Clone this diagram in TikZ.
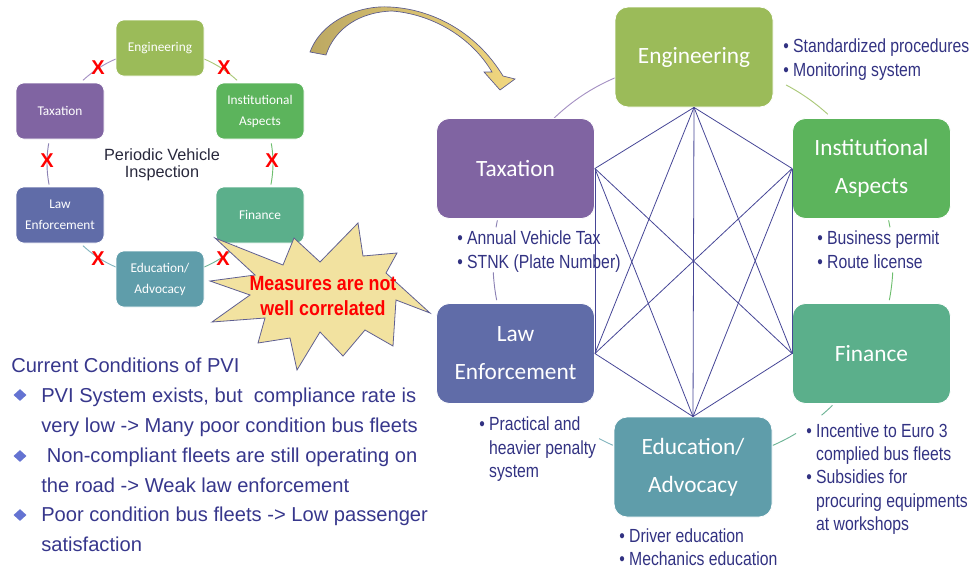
\documentclass[tikz,border=0pt]{standalone}
\usepackage{fontspec}
\setmainfont{Liberation Sans}
\newfontfamily\boxfont{Carlito}
\newfontfamily\narrowfont[FakeStretch=0.83]{Liberation Sans}
\newfontfamily\burstfont[FakeStretch=0.87]{Liberation Sans Bold}
\newfontfamily\xfont{Liberation Sans Bold}
\usetikzlibrary{shapes.geometric}
\definecolor{cEng}{RGB}{155,187,89}
\definecolor{cTax}{RGB}{128,100,162}
\definecolor{cInst}{RGB}{92,180,92}
\definecolor{cLaw}{RGB}{96,108,168}
\definecolor{cFin}{RGB}{91,175,139}
\definecolor{cEdu}{RGB}{95,157,170}
\definecolor{navy}{RGB}{50,50,130}
\definecolor{condblue}{RGB}{55,55,140}
\definecolor{web}{RGB}{70,70,150}
\definecolor{burstfill}{RGB}{242,226,160}
\definecolor{burstline}{RGB}{95,95,145}
\definecolor{arcpurple}{RGB}{165,145,195}
\definecolor{arcgreen}{RGB}{170,200,120}
\definecolor{arcgrey}{RGB}{140,130,180}
\definecolor{arcgreen2}{RGB}{110,190,110}
\definecolor{arcteal}{RGB}{110,180,150}
\definecolor{arcteal2}{RGB}{130,180,190}
\definecolor{diamblue}{RGB}{100,115,210}
\newcommand{\ringarc}[6]{\draw[#1] plot[domain=#5:#6, samples=24, smooth, variable=\t] ({#2+#4*cos(\t)},{#3+#4*sin(\t)});}
\begin{document}
\begin{tikzpicture}[x=0.75pt,y=-0.75pt,
  bigbox/.style={rectangle, rounded corners=9.75pt, minimum width=118.5pt, minimum height=75pt, inner sep=0pt, text=white, align=center, draw=white, line width=0.6pt, font=\boxfont\fontsize{17.5}{28.5}\selectfont},
  smallbox/.style={rectangle, rounded corners=6pt, minimum width=66pt, minimum height=42pt, inner sep=0pt, text=white, align=center, draw=white, line width=0.5pt, font=\boxfont\fontsize{10}{15.75}\selectfont},
  bul/.style={anchor=base west, inner sep=0pt, text=navy, font=\narrowfont\fontsize{14.25}{18}\selectfont},
  cond/.style={anchor=base west, inner sep=0pt, text=condblue, font=\fontsize{15.1}{18}\selectfont},
  xmark/.style={inner sep=0pt, text=red, font=\xfont\fontsize{15}{16}\selectfont},
  webline/.style={draw=web, line width=0.6pt},
  diam/.style={diamond, fill=diamblue, minimum width=9.75pt, minimum height=9pt, inner sep=0pt},
  thinarc/.style={line width=0.7pt}
]
\useasboundingbox (0,0) rectangle (978,572);

% ---------------- left small diagram ----------------
\ringarc{thinarc, arcpurple}{160}{163}{113}{227}{247}
\ringarc{thinarc, arcgreen}{160}{163}{113}{293}{313}
\ringarc{thinarc, arcgrey}{160}{163}{113}{169}{190}
\ringarc{thinarc, arcgreen2}{160}{163}{113}{-10}{11}
\ringarc{thinarc, arcteal2}{160}{163}{113}{113}{133}
\ringarc{thinarc, arcteal}{160}{163}{113}{47}{67}

\node[smallbox, fill=cEng] (sE) at (160,48) {Engineering};
\node[smallbox, fill=cTax] (sT) at (60,111) {Taxation};
\node[smallbox, fill=cInst] (sI) at (260,111) {Institutional\\Aspects};
\node[smallbox, fill=cLaw] (sL) at (60,215) {Law\\Enforcement};
\node[smallbox, fill=cFin] (sF) at (260,215) {Finance};
\node[smallbox, fill=cEdu] (sD) at (160,279) {Education/\\Advocacy};

\node[xmark] (x1) at (98,68) {X};
\node[xmark] (x2) at (224,68) {X};
\node[xmark] (x3) at (47,161) {X};
\node[xmark] (x4) at (272,161) {X};
\node[xmark] (x5) at (98,259) {X};
\node[xmark] (x6) at (223,259) {X};

\node[align=center, inner sep=0pt, text={rgb,255:red,40;green,40;blue,60}, font=\fontsize{12.2}{12.75}\selectfont] (pvi) at (162,165) {Periodic Vehicle\\Inspection};

% starburst
\draw[fill=burstfill, draw=burstline, line width=0.6pt, line join=miter]
  (215,238) -- (283,265) -- (294,238) -- (320,262) -- (358,223) -- (363,256)
  -- (397,253) -- (386,273) -- (430,313) -- (396,300) -- (393,346) -- (365,330)
  -- (343,356) -- (320,332) -- (297,370) -- (290,338) -- (258,343) -- (265,318)
  -- (212,322) -- (250,295) -- (210,281) -- (255,275) -- cycle;
\node[align=center, inner sep=0pt, text=red, font=\burstfont\fontsize{15.4}{18.75}\selectfont] (burst) at (323,296) {Measures are not\\well correlated};

% curved arrow
\shadedraw[left color={rgb,255:red,188;green,168;blue,98}, right color={rgb,255:red,242;green,216;blue,128}, draw={rgb,255:red,90;green,90;blue,140}, line width=0.5pt]
  (310,52) .. controls (322,20) and (360,5) .. (390,7)
  .. controls (430,9) and (475,30) .. (503,76)
  -- (515,79) -- (500,90) -- (484,72) -- (492,72)
  .. controls (470,35) and (430,14) .. (392,11)
  .. controls (360,12) and (335,28) .. (326,55) -- cycle;

% ---------------- bottom-left text ----------------
\node[cond] (cc) at (11,372) {Current Conditions of PVI};
\node[diam] (d1) at (20,395) {};
\node[cond] (c1a) at (41,402) {PVI System exists, but~ compliance rate is};
\node[cond] (c1b) at (41,432) {very low -> Many poor condition bus fleets};
\node[diam] (d2) at (20,456) {};
\node[cond] (c2a) at (41,462) {\ Non-compliant fleets are still operating on};
\node[cond] (c2b) at (41,492) {the road -> Weak law enforcement};
\node[diam] (d3) at (20,515) {};
\node[cond] (c3a) at (41,521) {Poor condition bus fleets -> Low passenger};
\node[cond] (c3b) at (41,551) {satisfaction};

% ---------------- right diagram ----------------
\ringarc{thinarc, arcpurple}{693}{262}{200}{226}{247}
\ringarc{thinarc, arcgreen}{693}{262}{200}{297.7}{312.4}
\ringarc{thinarc, arcgrey}{693}{262}{200}{169}{177}
\ringarc{thinarc, arcgrey}{693}{262}{200}{190}{192}
\ringarc{thinarc, arcgreen2}{693}{262}{200}{3}{11}
\ringarc{thinarc, arcgreen2}{693}{262}{200}{348}{350}
\ringarc{thinarc, arcteal}{693}{262}{200}{45.8}{50}
\ringarc{thinarc, arcteal}{693}{262}{200}{59}{66.5}
\ringarc{thinarc, arcteal2}{693}{262}{200}{113.6}{118}
\ringarc{thinarc, arcteal2}{693}{262}{200}{135}{137}

\node[bigbox, fill=cEng] (E) at (694,57) {Engineering};
\node[bigbox, fill=cTax] (T) at (515.5,168.5) {Taxation};
\node[bigbox, fill=cInst] (I) at (871.5,168.5) {Institutional\\Aspects};
\node[bigbox, fill=cLaw] (L) at (515.5,353.5) {Law\\Enforcement};
\node[bigbox, fill=cFin] (F) at (871.5,353.5) {Finance};
\node[bigbox, fill=cEdu] (D) at (693,467) {Education/\\Advocacy};

\draw[webline] (E.south) -- (T.east);
\draw[webline] (E.south) -- (I.west);
\draw[webline] (E.south) -- (L.east);
\draw[webline] (E.south) -- (F.west);
\draw[webline] (E.south) -- (D.north);
\draw[webline] (T.east) -- (L.east);
\draw[webline] (T.east) -- (F.west);
\draw[webline] (T.east) -- (D.north);
\draw[webline] (I.west) -- (L.east);
\draw[webline] (I.west) -- (F.west);
\draw[webline] (I.west) -- (D.north);
\draw[webline] (L.east) -- (D.north);
\draw[webline] (F.west) -- (D.north);

% bullets
\node[bul] (e1) at (783,52) {• Standardized procedures};
\node[bul] (e2) at (783,76) {• Monitoring system};
\node[bul] (t1) at (457,244) {• Annual Vehicle Tax};
\node[bul] (t2) at (457,268) {• STNK (Plate Number)};
\node[bul] (i1) at (817,244) {• Business permit};
\node[bul] (i2) at (817,268) {• Route license};
\node[bul] (l1) at (479,430) {• Practical and};
\node[bul] (l2) at (479,454) {\phantom{• }heavier penalty};
\node[bul] (l3) at (479,477) {\phantom{• }system};
\node[bul] (f1) at (806,437) {• Incentive to Euro 3};
\node[bul] (f2) at (806,460) {\phantom{• }complied bus fleets};
\node[bul] (f3) at (806,483) {• Subsidies for};
\node[bul] (f4) at (806,507) {\phantom{• }procuring equipments};
\node[bul] (f5) at (806,530) {\phantom{• }at workshops};
\node[bul] (g1) at (619,542) {• Driver education};
\node[bul] (g2) at (619,565) {• Mechanics education};
\end{tikzpicture}
\end{document}
